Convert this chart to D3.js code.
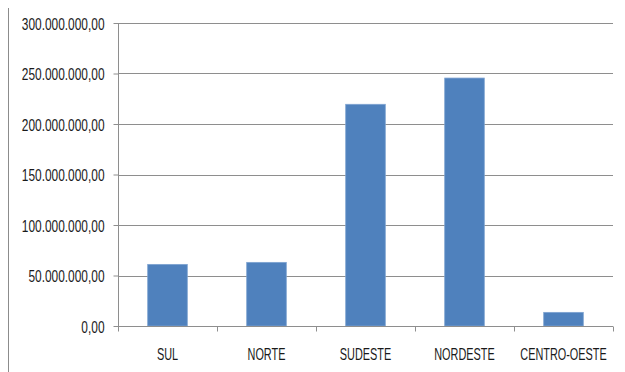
<!DOCTYPE html>
<html>
<head>
<meta charset="utf-8">
<script src="https://cdn.jsdelivr.net/npm/d3@7"></script>
<style>
  body { margin: 0; background: #fff; }
  text { font-family: "Liberation Sans", Arial, sans-serif; fill: #1a1a1a; }
</style>
</head>
<body>
<div id="chart"></div>
<script>
const regions = ["SUL", "NORTE", "SUDESTE", "NORDESTE", "CENTRO-OESTE"];
const values = [61000000, 63000000, 219500000, 245500000, 13500000];
const yTicks = [0, 50000000, 100000000, 150000000, 200000000, 250000000, 300000000];

(function chart() {
  let width = 625,
      height = 372,
      margin = ({ top: 23, right: 12, bottom: 46, left: 118 });

  const svg = d3.select("#chart")
    .append("svg")
    .attr("width", width)
    .attr("height", height);

  // outer frame line on the left
  svg.append("line")
    .attr("x1", 8.5).attr("x2", 8.5)
    .attr("y1", 8).attr("y2", height)
    .attr("stroke", "#8c8c8c");

  let x = d3.scaleBand()
    .domain(regions)
    .range([margin.left, width - margin.right])
    .paddingInner(0.6)
    .paddingOuter(0.3);

  let y = d3.scaleLinear()
    .domain([0, 300000000])
    .range([height - margin.bottom, margin.top]);

  const fmt = v => {
    const s = d3.format(",.2f")(v);
    return s.replace(/,/g, "#").replace(".", ",").replace(/#/g, ".");
  };

  // squeeze text horizontally (narrow font look)
  const squeeze = (sel, k) => sel.each(function() {
    const w = this.getComputedTextLength();
    d3.select(this).attr("textLength", w * k).attr("lengthAdjust", "spacingAndGlyphs");
  });

  // gridlines
  svg.append("g")
    .selectAll("line")
    .data(yTicks.slice(1))
    .join("line")
    .attr("x1", margin.left)
    .attr("x2", width - margin.right)
    .attr("y1", d => Math.round(y(d)) + 0.5)
    .attr("y2", d => Math.round(y(d)) + 0.5)
    .attr("stroke", "#8e8e8e");

  svg.append("g")
    .attr("transform", `translate(${margin.left + 0.5},0)`)
    .call(d3.axisLeft(y).tickValues(yTicks).tickFormat(fmt).tickSize(5).tickPadding(9))
    .call(g => g.selectAll("line, path").attr("stroke", "#8e8e8e"))
    .call(g => g.select(".domain").attr("d", `M0,${margin.top}V${height - margin.bottom}`))
    .call(g => g.selectAll("text")
      .attr("font-size", 17)
      .attr("font-family", null)
      .attr("dy", "0.36em")
      .call(squeeze, 0.7));

  svg.append("g")
    .selectAll("rect")
    .data(regions)
    .join("rect")
    .attr("x", d => x(d))
    .attr("width", x.bandwidth())
    .attr("y", (d, i) => y(values[i]))
    .attr("height", (d, i) => y(0) - y(values[i]))
    .attr("fill", "#4f81bd")
    .attr("stroke", "#7ea3d1")
    .attr("stroke-width", 0.8);

  // x axis with ticks between categories
  const xAxis = svg.append("g")
    .attr("transform", `translate(0,${Math.round(y(0)) + 0.5})`);
  xAxis.append("line")
    .attr("x1", margin.left).attr("x2", width - margin.right)
    .attr("stroke", "#8e8e8e");
  const step = (width - margin.right - margin.left) / regions.length;
  xAxis.selectAll(".tick")
    .data(d3.range(regions.length + 1))
    .join("line")
    .attr("x1", i => Math.round(margin.left + i * step) + 0.5)
    .attr("x2", i => Math.round(margin.left + i * step) + 0.5)
    .attr("y1", 0).attr("y2", 5)
    .attr("stroke", "#8e8e8e");
  xAxis.selectAll("text")
    .data(regions)
    .join("text")
    .attr("x", d => x(d) + x.bandwidth() / 2)
    .attr("y", 33)
    .attr("text-anchor", "middle")
    .attr("font-size", 17)
    .text(d => d)
    .call(squeeze, 0.64);
})();
</script>
</body>
</html>
